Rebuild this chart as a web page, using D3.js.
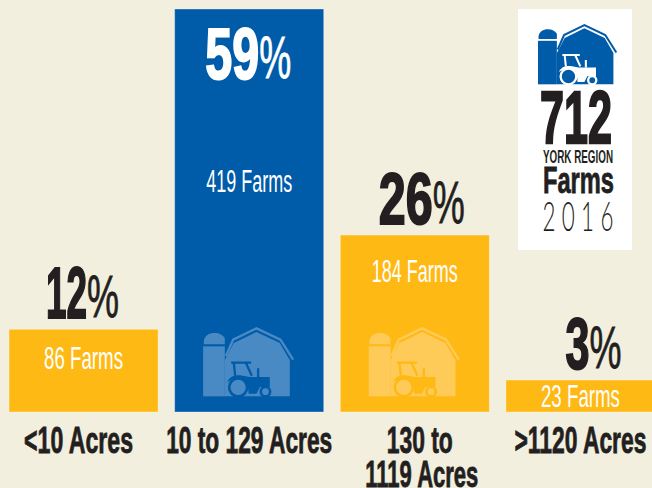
<!DOCTYPE html>
<html>
<head>
<meta charset="utf-8">
<script src="https://cdn.jsdelivr.net/npm/d3@7"></script>
<style>
    html, body { margin: 0; padding: 0; background: #f2efdf; overflow: hidden; }
    svg { display: block; }
    text { font-family: "Liberation Sans Narrow", "Liberation Sans", sans-serif; }
</style>
</head>
<body>
<svg id="chart" width="652" height="488"></svg>
<script>
const categories = [['<10 Acres'], ['10 to 129 Acres'], ['130 to', '1119 Acres'], ['>1120 Acres']];
const farms = [86, 419, 184, 23];
const percents = [12, 59, 26, 3];
const totalFarms = 712;
const region = 'YORK REGION';
const year = '2016';

const BLUE = '#005ba8';
const YELLOW = '#ffb915';
const INK = '#231f20';
const highlight = 1; // index of the biggest bar
const minBarHeight = 32; // the small bar is drawn taller so its label fits

let svg = d3.select('#chart');

let x = d3.scaleBand().domain(d3.range(farms.length)).range([9, 655]).paddingInner(0.1);
let y = d3.scaleLinear().domain([0, d3.max(farms)]).range([412, 9]);

function barTop(d) {
    return Math.min(y(d), y(0) - minBarHeight);
}

// squeezes the text to a given width, the installed fonts are wider than the original
function label(str, cx, baseline, width, size, color, weight, thick) {
    return svg.append('text')
        .attr('x', cx)
        .attr('y', baseline)
        .attr('text-anchor', 'middle')
        .attr('font-size', size)
        .attr('font-weight', weight || 'normal')
        .attr('fill', color)
        .attr('stroke', thick ? color : 'none')
        .attr('stroke-width', thick || 0)
        .attr('textLength', width)
        .attr('lengthAdjust', 'spacingAndGlyphs')
        .text(str);
}

// barn with silo and tractor, 272 x 208 in local units
function barn(px, py, scale, color, cutout) {
    let g = svg.append('g').attr('transform', `translate(${px},${py}) scale(${scale})`);
    g.append('path').attr('fill', color)
        .attr('d', 'M2,52 V42 C4,26 18,18 34,18 C48,18 60,24 65,34 V52 Z');
    g.append('rect').attr('fill', color).attr('x', 0).attr('y', 58).attr('width', 65).attr('height', 150);
    g.append('path').attr('fill', color)
        .attr('d', 'M65,100 L92,48 L160,15 L230,48 L260,100 V208 H65 Z');
    g.append('path').attr('fill', 'none').attr('stroke', color).attr('stroke-width', 7)
        .attr('d', 'M68,88 L90,38 L160,4 L232,38 L270,98');
    // tractor
    g.append('path').attr('fill', 'none').attr('stroke', cutout).attr('stroke-width', 7)
        .attr('d', 'M84,107 H144 M92,107 L96,146 M128,107 L146,146 M165,124 V150');
    g.append('path').attr('fill', cutout)
        .attr('d', 'M72,165 C80,146 100,142 118,146 L140,150 H200 V180 H170 L160,200 H136 C138,170 120,152 96,156 C86,158 78,162 72,165 Z');
    g.append('circle').attr('cx', 105).attr('cy', 181).attr('r', 27)
        .attr('fill', color).attr('stroke', cutout).attr('stroke-width', 8);
    g.append('circle').attr('cx', 187).attr('cy', 194).attr('r', 14)
        .attr('fill', color).attr('stroke', cutout).attr('stroke-width', 8);
}

// bars
svg.selectAll('rect.bar')
    .data(farms)
    .enter()
    .append('rect')
    .attr('class', 'bar')
    .attr('x', (d, i) => x(i))
    .attr('y', d => barTop(d))
    .attr('width', x.bandwidth())
    .attr('height', d => y(0) - barTop(d))
    .attr('fill', (d, i) => i === highlight ? BLUE : YELLOW)
    .attr('stroke', '#fff')
    .attr('stroke-opacity', 0.35)
    .attr('stroke-width', 1);

// barn watermark in the two tall bars
farms.forEach((d, i) => {
    if (y(0) - y(d) < 120) return;
    let light = i === highlight ? '#4a8ac4' : '#ffcb58';
    barn(x(i) + 28.5, 327, 1 / 3, light, i === highlight ? BLUE : YELLOW);
});

// small shifts of the percent and category labels from the bar centre
const percentShift = [-2, -2, 6, 12];
const labelShift = [-5, 0, 5, 0];
const percentDigitWidth = [41, 54, 54, 24];

percents.forEach((p, i) => {
    let center = x(i) + x.bandwidth() / 2 + percentShift[i];
    let baseline = barTop(farms[i]) - 11;
    let digitWidth = percentDigitWidth[i];
    let total = digitWidth + 30;
    let left = center - total / 2;
    let color = i === highlight ? '#fff' : INK;
    if (i === highlight) baseline = 79;
    label(String(p), left + digitWidth / 2, baseline, digitWidth, 72, color, 'bold', 2);
    label('%', left + digitWidth + 1 + 15, baseline - 1, 32, 60, color, 'normal', 0.8);
});

// farm counts inside the bars
const insideOffset = [40, 0, 47, 27];
farms.forEach((d, i) => {
    let baseline = i === highlight ? 192 : barTop(d) + insideOffset[i];
    label(d + ' Farms', x(i) + x.bandwidth() / 2, baseline, String(d).length > 2 ? 86 : 79, 31, '#fff');
});

// category labels
const labelWidths = [[109], [166], [66, 113], [132]];
categories.forEach((lines, i) => {
    lines.forEach((line, j) => {
        label(line, x(i) + x.bandwidth() / 2 + labelShift[i] + (j ? 2 : 0), 453 + j * 34, labelWidths[i][j], 36, INK, 'bold', 0.8);
    });
});

// total panel
svg.append('rect')
    .attr('x', 518).attr('y', 9)
    .attr('width', 114).attr('height', 241)
    .attr('fill', '#fff');

barn(538, 24, 0.29, BLUE, '#fff');

label(totalFarms, 576, 143, 72, 75, INK, 'bold', 2.4);
label(region, 578, 163, 70, 18, INK, 'bold');
label('Farms', 578.5, 193, 71, 36, INK, 'bold', 0.8);

// the year is spaced out digit by digit
Array.from(year).forEach((c, i) => {
    label(c, 549 + i * 19.3, 231, 13, 42, INK)
        .style('font-family', 'Lato, sans-serif')
        .style('font-weight', 300);
});
</script>
</body>
</html>
